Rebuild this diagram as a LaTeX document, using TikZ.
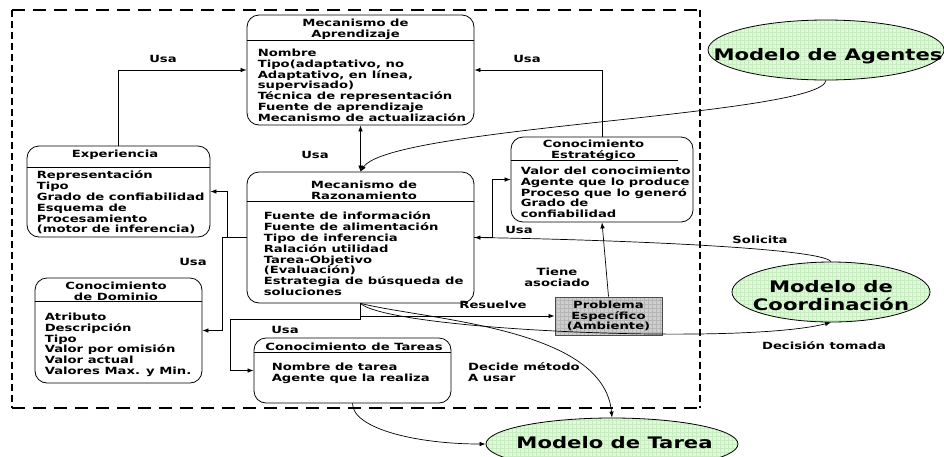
\documentclass[tikz,border=0pt]{standalone}
\usepackage{fontspec}
\newfontfamily\dvs{DejaVu Sans}[FakeStretch=1.33]
\usetikzlibrary{arrows.meta,patterns,shapes.geometric,calc}

% fine square grid used as texture on the filled shapes
\pgfdeclarepatternformonly{fgrid}{\pgfpoint{-0.5pt}{-0.5pt}}{\pgfpoint{4.5pt}{4.5pt}}{\pgfpoint{4pt}{4pt}}{%
  \pgfsetlinewidth{0.3pt}%
  \pgfpathmoveto{\pgfpoint{0pt}{0pt}}\pgfpathlineto{\pgfpoint{4pt}{0pt}}%
  \pgfpathmoveto{\pgfpoint{0pt}{0pt}}\pgfpathlineto{\pgfpoint{0pt}{4pt}}%
  \pgfusepath{stroke}}

\definecolor{mfill}{RGB}{224,250,214}
\definecolor{mgrid}{RGB}{200,236,194}
\definecolor{pfill}{RGB}{206,206,206}
\definecolor{pgrid}{RGB}{182,182,182}

\tikzset{
  >={Latex[length=6pt,width=4.5pt]},
  txt/.style={font=\dvs\bfseries\fontsize{9.9}{10.8}\selectfont, inner sep=0pt},
  ttl/.style={txt, align=center},
  body/.style={txt, align=left, anchor=north west},
  card/.style={draw, line width=0.8pt, rounded corners=12pt, inner sep=0pt},
  sepline/.style={line width=0.8pt},
  con/.style={line width=0.7pt, ->},
  model/.style={ellipse, draw, line width=0.8pt, inner sep=0pt,
    preaction={fill=mfill}, pattern=fgrid, pattern color=mgrid},
  bigtxt/.style={font=\dvs\bfseries\fontsize{15.9}{17.3}\selectfont, inner sep=0pt, anchor=base},
  probbox/.style={draw=black!70, line width=1pt, inner sep=0pt,
    preaction={fill=pfill}, pattern=fgrid, pattern color=pgrid,
    txt, align=center},
  frameh/.style={line width=2.4pt, dash pattern=on 13pt off 8pt},
  framev/.style={line width=2.4pt, dash pattern=on 7pt off 4pt},
}

\begin{document}
\begin{tikzpicture}[x=1pt, y=-1pt]
\useasboundingbox (0,0) rectangle (944,456);

% agent boundary
\draw[frameh] (12,10) -- (700,10);
\draw[frameh] (12,408) -- (700,408);
\draw[framev] (12,10) -- (12,408);
\draw[framev] (700,10) -- (700,408);

% ---- knowledge cards ----
\node[card, minimum width=227pt, minimum height=110pt] (apr) at (360.5,70) {};
\draw[sepline] ($(apr.north west)+(0,26)$) -- ($(apr.north east)+(0,26)$);
\node[ttl] at ($(apr.north)+(-5,14.5)$) {Mecanismo de\\Aprendizaje};
\node[body] at ($(apr.north west)+(11,34.2)$) {Nombre\\Tipo(adaptativo, no\\Adaptativo, en línea,\\supervisado)\\Técnica de representación\\Fuente de aprendizaje\\Mecanismo de actualización};

\node[card, minimum width=183pt, minimum height=91pt] (exp) at (118.5,191.5) {};
\draw[sepline] ($(exp.north west)+(0,22)$) -- ($(exp.north east)+(0,22)$);
\node[ttl] at ($(exp.north)+(-3.5,9)$) {Experiencia};
\node[body] at ($(exp.north west)+(10,25.2)$) {Representación\\Tipo\\Grado de confiabilidad\\Esquema de\\Procesamiento\\(motor de inferencia)};

\node[card, minimum width=227pt, minimum height=131pt] (raz) at (360.5,237.5) {};
\draw[sepline] ($(raz.north west)+(0,30)$) -- ($(raz.north east)+(0,30)$);
\node[ttl] at ($(raz.north)+(3.5,19)$) {Mecanismo de\\Razonamiento};
\node[body] at ($(raz.north west)+(17,40.2)$) {Fuente de información\\Fuente de alimentación\\Tipo de inferencia\\Ralación utilidad\\Tarea-Objetivo\\(Evaluación)\\Estrategia de búsqueda de\\soluciones};

\node[card, minimum width=182pt, minimum height=85pt] (est) at (602,179.5) {};
\draw[sepline] ($(est.north west)+(0,24)$) -- ($(est.north east)+(-15,24)$);
\node[ttl] at ($(est.north)+(-8.5,13.5)$) {Conocimiento\\Estratégico};
\node[body] at ($(est.north west)+(10,30.2)$) {Valor del conocimiento\\Agente que lo produce\\Proceso que lo generó\\Grado de\\confiabilidad};

\node[card, minimum width=167pt, minimum height=105pt] (dom) at (118.5,330.5) {};
\draw[sepline] ($(dom.north west)+(0,24)$) -- ($(dom.north east)+(0,24)$);
\node[ttl] at ($(dom.north)+(-2.5,14)$) {Conocimiento\\de Dominio};
\node[body] at ($(dom.north west)+(10,35.2)$) {Atributo\\Descripción\\Tipo\\Valor por omisión\\Valor actual\\Valores Max. y Min.};

\node[card, minimum width=197pt, minimum height=65pt] (tar) at (352.5,370.5) {};
\draw[sepline] ($(tar.north west)+(0,15)$) -- ($(tar.north east)+(0,15)$);
\node[ttl] at ($(tar.north)+(1.5,9)$) {Conocimiento de Tareas};
\node[body] at ($(tar.north west)+(18,25.2)$) {Nombre de tarea\\Agente que la realiza};

\node[probbox, minimum width=107pt, minimum height=38pt] (prob) at (608.5,316) {Problema\\Específico\\(Ambiente)};

% ---- external models ----
\node[model, minimum width=236pt, minimum height=60pt] (ag) at (826,50) {};
\node[bigtxt] at (828,60) {Modelo de Agentes};
\node[model, minimum width=198pt, minimum height=60pt] (coord) at (831,292) {};
\node[bigtxt] at (831,292.7) {Modelo de};
\node[bigtxt] at (831,310) {Coordinación};
\node[model, minimum width=252pt, minimum height=52pt] (mtar) at (612,444) {};
\node[bigtxt] at (614.5,448.3) {Modelo de Tarea};

% ---- connectors ----
\draw[con] (exp.north) |- (apr.west);
\draw[con] (est.north) |- (apr.east);
\draw[line width=0.7pt, <->] (apr.south) -- (raz.north);
\draw[con] (ag.south) .. controls +(-5,35) and +(30,-45) .. (raz.north);
\draw[con] (raz.west) -- ++(-19,0) |- (exp.east);
\draw[con] (raz.west) -- ++(-24,0) |- (dom.east);
\draw[con] (raz.east) -- ++(18,0) |- (est.west);
\draw[con] (coord.north) .. controls +(-10,-14) and +(130,2) .. (raz.east);
\draw[con] (raz.south) -- ++(0,16) -- ++(-130.5,0) |- (tar.west);
\draw[con] (raz.south) |- (prob.west);
\draw[con] (prob.north) -- (est.south);
\draw[con] (raz.south) .. controls +(29.5,27) and +(-90,23) .. (coord.south);
\draw[con] (raz.south) .. controls +(69.5,17) and +(-8,-90) .. (mtar.north);
\draw[con] (tar.south) .. controls +(0,25) and +(-70,0) .. (mtar.west);

% ---- connector labels ----
\node[txt] (l1) at (163,59) {Usa};
\node[txt] (l2) at (527,59) {Usa};
\node[txt] (l3) at (315,155) {Usa};
\node[txt] (l4) at (193,262) {Usa};
\node[txt] (l5) at (519,230) {Usa};
\node[txt] (l6) at (285,330) {Usa};
\node[txt] (l7) at (493,305) {Resuelve};
\node[ttl] (l8) at (557,277) {Tiene\\asociado};
\node[txt] (l9) at (760,240) {Solicita};
\node[txt] (l10) at (824,346) {Decisión tomada};
\node[txt, align=left, anchor=west] (l11) at (468,372) {Decide método\\A usar};
\end{tikzpicture}
\end{document}
